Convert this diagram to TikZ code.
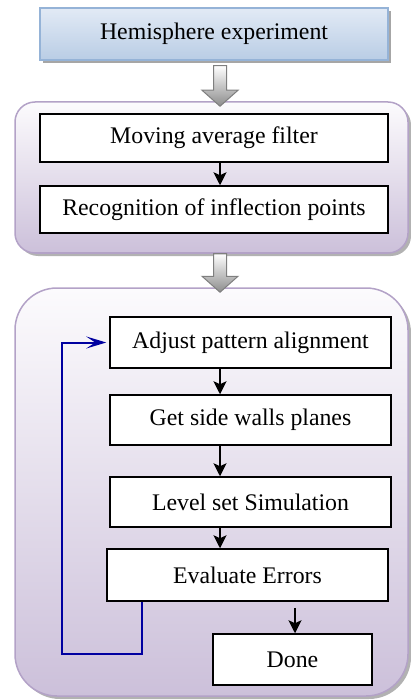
\documentclass[tikz,border=0pt]{standalone}
\usepackage{fontspec}
\setmainfont{Liberation Serif}
\usetikzlibrary{arrows.meta,calc,shadows}
\definecolor{blueline}{RGB}{0,0,160}
\definecolor{headtop}{RGB}{226,234,245}
\definecolor{headbot}{RGB}{185,205,229}
\definecolor{headborder}{RGB}{149,179,215}
\definecolor{grptop}{RGB}{252,251,253}
\definecolor{grpbot}{RGB}{204,192,218}
\definecolor{grpborder}{RGB}{179,162,199}
\definecolor{harrowborder}{RGB}{127,127,127}
\definecolor{harrowbot}{RGB}{140,140,140}
\begin{document}
\begin{tikzpicture}[x=1pt,y=-1pt,
  every node/.style={font=\fontsize{23.8}{28}\selectfont},
  stepbox/.style={draw=black, line width=1.5pt, fill=white, inner sep=0pt, minimum height=50pt},
  headbox/.style={draw=headborder, line width=1.5pt, top color=headtop, bottom color=headbot,
     inner sep=0pt, drop shadow={shadow xshift=3pt, shadow yshift=-3pt, fill=black!35, opacity=1}},
  groupbox/.style={draw=grpborder, line width=1.5pt, top color=grptop, bottom color=grpbot,
     inner sep=0pt, drop shadow={shadow xshift=3pt, shadow yshift=-3pt, fill=black!30, opacity=1}},
  hollow/.style={draw=harrowborder, line width=1pt, top color=white, bottom color=harrowbot},
  flow/.style={line width=1.5pt, -{Stealth[length=13pt,width=13pt,inset=3pt]}},
  loop/.style={blueline, line width=2pt, -{Stealth[length=20pt,width=12pt,inset=9pt]}}
]
\useasboundingbox (0,0) rectangle (410,700);

% group backgrounds
\node[groupbox, rounded corners=20pt, minimum width=393pt, minimum height=151pt] (g1) at (211.5,177.5) {};
\node[groupbox, rounded corners=42pt, minimum width=393pt, minimum height=408pt] (g2) at (211.5,492) {};

% header
\node[headbox, minimum width=348pt, minimum height=52pt] (top) at (214,34) {Hemisphere experiment};

% group 1
\node[stepbox, minimum width=348pt, minimum height=48pt] (mov) at (214,138) {Moving average filter};
\node[stepbox, minimum width=348pt, minimum height=47pt] (rec) at (214,209.5) {Recognition of inflection points};

% group 2
\node[stepbox, minimum width=281pt, minimum height=51pt] (adj) at (250.5,342.5) {Adjust pattern alignment};
\node[stepbox, minimum width=281pt] (get) at (250.5,420) {Get side walls planes};
\node[stepbox, minimum width=281pt] (lev) at (250.5,502) {Level set Simulation};
\node[stepbox, minimum width=281pt, minimum height=52pt] (eva) at (247.5,575) {Evaluate Errors};
\node[stepbox, minimum width=159pt, minimum height=51pt] (done) at (292.5,659.5) {Done};

% helper coordinates
\coordinate (ax) at (220,0);
\coordinate (dx) at (295,0);
\coordinate (bx) at (142,0);
\coordinate (bl) at (62,654);

% hollow arrows
\coordinate (h1s) at ($(top.south -| ax)+(0,5)$);
\coordinate (h1t) at ($(g1.north -| ax)+(0,5)$);
\path[hollow] ($(h1s)+(-6.5,0)$) -- ($(h1t)+(-6.5,-16)$) -- ($(h1t)+(-18,-16)$) -- (h1t)
   -- ($(h1t)+(18,-16)$) -- ($(h1t)+(6.5,-16)$) -- ($(h1s)+(6.5,0)$) -- cycle;
\coordinate (h2s) at ($(g1.south -| ax)+(0,0)$);
\coordinate (h2t) at ($(g2.north -| ax)+(0,5)$);
\path[hollow] ($(h2s)+(-6.5,0)$) -- ($(h2t)+(-6.5,-16)$) -- ($(h2t)+(-18,-16)$) -- (h2t)
   -- ($(h2t)+(18,-16)$) -- ($(h2t)+(6.5,-16)$) -- ($(h2s)+(6.5,0)$) -- cycle;

% flow arrows
\draw[flow] (mov.south -| ax) -- (rec.north -| ax);
\draw[flow] (adj.south -| ax) -- (get.north -| ax);
\draw[flow] (get.south -| ax) -- (lev.north -| ax);
\draw[flow] (lev.south -| ax) -- (eva.north -| ax);
\draw[flow] ($(eva.south -| dx)+(0,6)$) -- (done.north -| dx);

% feedback loop
\draw[loop] (eva.south -| bx) -- (bx |- bl) -- (bl) -- (bl |- adj.west) -- ($(adj.west)+(-3,0)$);
\end{tikzpicture}
\end{document}
